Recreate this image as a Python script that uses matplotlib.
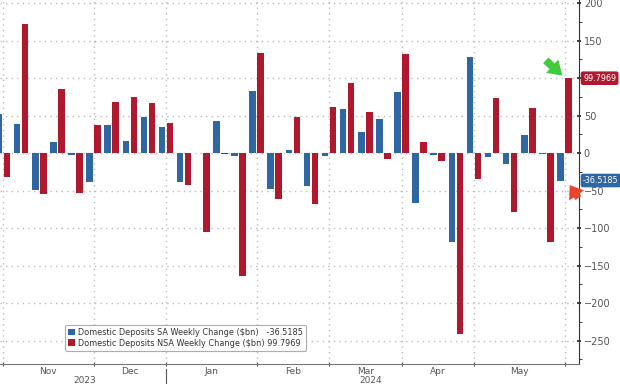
import matplotlib.pyplot as plt
from matplotlib.ticker import MultipleLocator, FixedLocator
import numpy as np

# weekly changes, Nov 2023 - early Jun 2024 ($bn)
sa = [52, 39, -49, 15, -3, -38, 37, 16, 48, 35, -39, 0.5, 43, -4, 83, -48,
      4, -44, -4, 59, 28, 45, 82, -67, -2, -118, 128, -5, -14, 24, -1, -36.5185]
nsa = [-32, 172, -54, 85, -53, 38, 68, 75, 67, 40, -42, -105, -1.5, -164, 134, -61,
       48, -68, 62, 94, 55, -8, 132, 15, -10, -241, -34, 73, -79, 60, -119, 99.7969]
month_start = [0, 5, 9, 14, 18, 22, 26, 31]
month_names = ['Nov', 'Dec', 'Jan', 'Feb', 'Mar', 'Apr', 'May']
year_names = ['2023', '2024']
sa_label = 'Domestic Deposits SA Weekly Change (\\$bn)'
nsa_label = 'Domestic Deposits NSA Weekly Change (\\$bn)'

blue = '#2e67a3'
red = '#b0182e'
grey = '#555555'

plt.rcParams['font.family'] = ['DejaVu Sans']

fig = plt.figure(figsize=(6.2, 3.84), dpi=100)
ax = fig.add_axes([0, 20 / 384, 579 / 620, 364 / 384])

x = np.arange(len(sa))
w = 0.36
ax.bar(x - 0.22, sa, width=w, color=blue, label=sa_label + '   %.4f' % sa[-1], zorder=3)
ax.bar(x + 0.22, nsa, width=w, color=red, label=nsa_label + ' %.4f' % nsa[-1], zorder=3)

ax.set_xlim(-0.17, 31.8)
ax.set_ylim(-281, 204)

# y axis on the right
ax.yaxis.tick_right()
ax.yaxis.set_major_locator(MultipleLocator(50))
ax.yaxis.set_minor_locator(MultipleLocator(25))
ax.tick_params(axis='y', which='major', length=3, width=1.2, color='#222222',
               labelsize=7, labelcolor=grey, pad=2, direction='inout')
ax.tick_params(axis='y', which='minor', length=2, color='#222222')
fig.canvas.draw()
for lab in ax.get_yticklabels():
    if lab.get_position()[1] == 100:   # hidden behind the last-value tag
        lab.set_visible(False)

# month separators on x, labels in between
ax.xaxis.set_major_locator(FixedLocator(month_start))
ax.set_xticklabels([])
ax.tick_params(axis='x', which='major', length=3, color=grey, direction='inout')
mids = [(month_start[i] + month_start[i + 1]) / 2 for i in range(len(month_names))]
for m, name in zip(mids, month_names):
    ax.text(m, -0.02, name, transform=ax.get_xaxis_transform(), ha='center', va='center',
            fontsize=6.5, color=grey)
ax.text(4.5, -0.045, year_names[0], transform=ax.get_xaxis_transform(), ha='center',
        va='center', fontsize=6.5, color=grey)
ax.text(20.3, -0.045, year_names[1], transform=ax.get_xaxis_transform(), ha='center',
        va='center', fontsize=6.5, color=grey)
ax.plot([9, 9], [-0.015, -0.06], transform=ax.get_xaxis_transform(), color=grey,
        lw=0.8, clip_on=False)

ax.grid(True, which='major', color='#bbbbbb', linestyle=(0, (1, 3)), linewidth=1)

for s in ['left', 'top']:
    ax.spines[s].set_visible(False)
ax.spines['right'].set_color('#333333')
ax.spines['bottom'].set_color('#777777')

leg = ax.legend(loc='lower left', bbox_to_anchor=(0.105, 0.025), fontsize=5.9,
                handlelength=0.8, handleheight=0.9, handletextpad=0.4, borderpad=0.4,
                labelspacing=0.2, frameon=True, fancybox=True, edgecolor='#999999')
leg.get_frame().set_linewidth(0.8)
for t in leg.get_texts():
    t.set_color('#333333')

# last value tags on the right axis
ax.annotate('%.4f' % nsa[-1], xy=(1.007, nsa[-1]), xycoords=('axes fraction', 'data'),
            ha='left', va='center', fontsize=5.8, color='white', zorder=5,
            bbox=dict(boxstyle='round,pad=0.2', fc=red, ec=red), annotation_clip=False)
ax.annotate('%.4f' % sa[-1], xy=(1.007, sa[-1]), xycoords=('axes fraction', 'data'),
            ha='left', va='center', fontsize=5.8, color='white', zorder=5,
            bbox=dict(boxstyle='round,pad=0.2', fc=blue, ec=blue), annotation_clip=False)

# arrows pointing at the last bars
ax.annotate('', xy=(31.0, nsa[-1] + 1), xytext=(29.85, 126),
            arrowprops=dict(arrowstyle='simple,head_width=1.3,head_length=1.0,tail_width=0.55',
                            color='#3fcc3a', lw=0))
ax.annotate('', xy=(31.2, sa[-1] - 3), xytext=(31.85, -63),
            arrowprops=dict(arrowstyle='simple,head_width=1.3,head_length=0.9,tail_width=0.5',
                            color='#e9452f', lw=0), annotation_clip=False)

fig.savefig('out.png', dpi=100)
